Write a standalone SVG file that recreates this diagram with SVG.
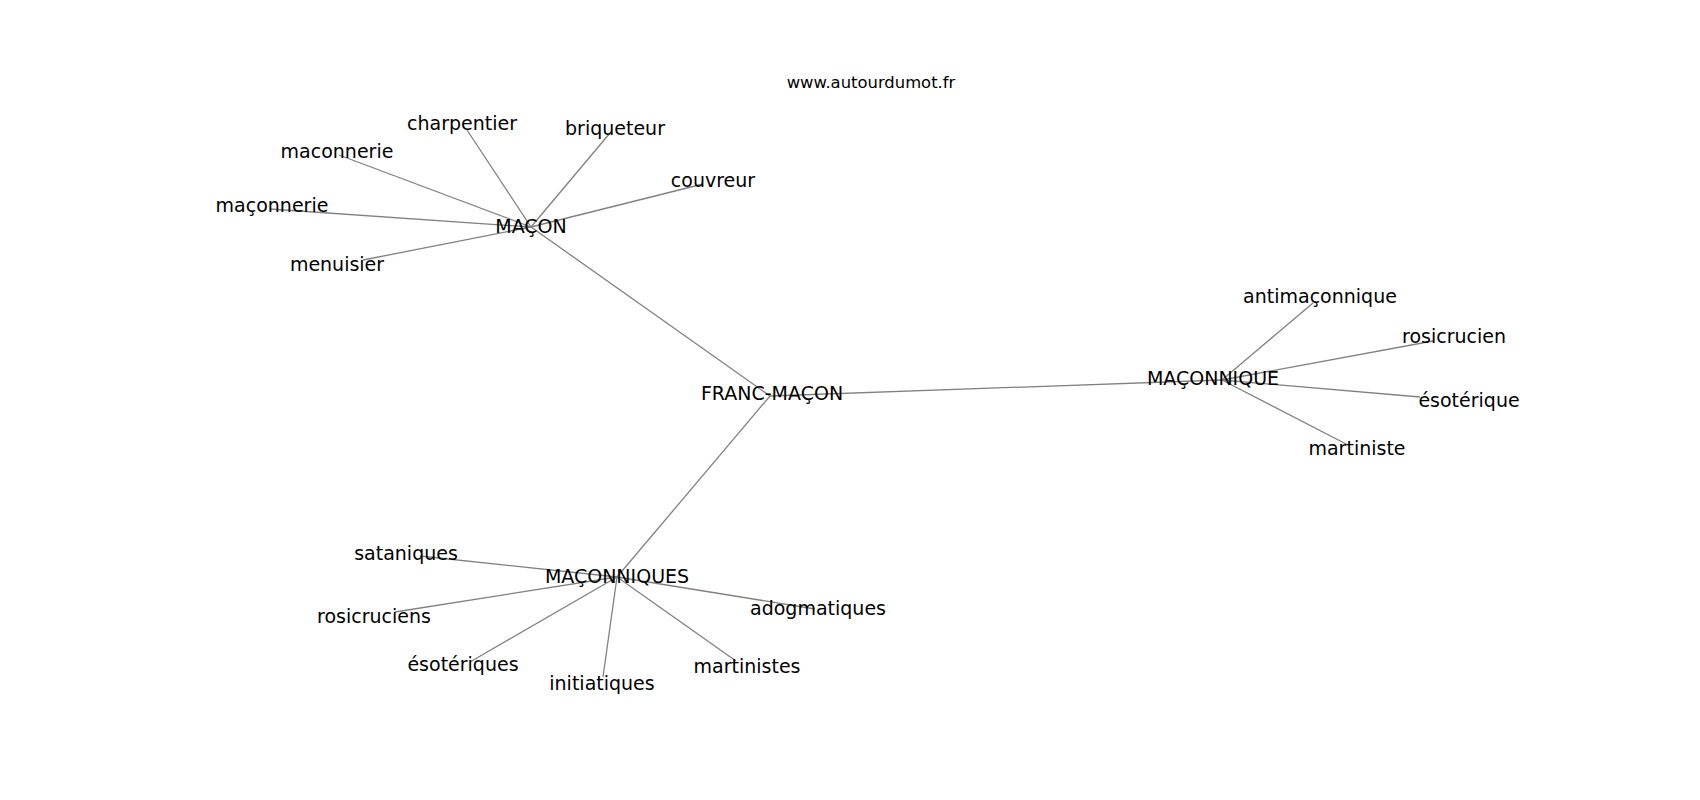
<svg xmlns="http://www.w3.org/2000/svg" width="1700" height="800" viewBox="0 0 1700 800">
<style>
.edge{stroke:#808080;stroke-width:1.3;fill:none}
.lbl{font-family:"DejaVu Sans","Liberation Sans",sans-serif;font-size:19px;fill:#000;text-anchor:middle}
.title{font-family:"DejaVu Sans","Liberation Sans",sans-serif;font-size:16.4px;fill:#000;text-anchor:middle}
</style>
<rect width="1700" height="800" fill="#fff"/>
<text class="title" x="871" y="88">www.autourdumot.fr</text>
<g id="connectors">
<line class="edge" x1="770" y1="396" x2="531" y2="227"/>
<line class="edge" x1="770" y1="396" x2="1222" y2="380"/>
<line class="edge" x1="770" y1="396" x2="617" y2="577"/>
<line class="edge" x1="531" y1="227" x2="339" y2="155"/>
<line class="edge" x1="531" y1="227" x2="467" y2="130"/>
<line class="edge" x1="531" y1="227" x2="610" y2="133"/>
<line class="edge" x1="531" y1="227" x2="703" y2="184"/>
<line class="edge" x1="531" y1="227" x2="270" y2="209"/>
<line class="edge" x1="531" y1="227" x2="363" y2="260"/>
<line class="edge" x1="1222" y1="380" x2="1313" y2="303"/>
<line class="edge" x1="1222" y1="380" x2="1433" y2="341"/>
<line class="edge" x1="1222" y1="380" x2="1420" y2="397"/>
<line class="edge" x1="1222" y1="380" x2="1348" y2="445"/>
<line class="edge" x1="617" y1="577" x2="420" y2="556"/>
<line class="edge" x1="617" y1="577" x2="395" y2="612"/>
<line class="edge" x1="617" y1="577" x2="470" y2="662"/>
<line class="edge" x1="617" y1="577" x2="603" y2="677"/>
<line class="edge" x1="617" y1="577" x2="736" y2="661"/>
<line class="edge" x1="617" y1="577" x2="815" y2="609"/>
</g>
<g id="n-francmacon"><text class="lbl" x="772" y="400">FRANC-MAÇON</text></g>
<g id="n-macon"><text class="lbl" x="531" y="233">MAÇON</text></g>
<g id="n-maconnerie1"><text class="lbl" x="337" y="158">maconnerie</text></g>
<g id="n-charpentier"><text class="lbl" x="462" y="130">charpentier</text></g>
<g id="n-briqueteur"><text class="lbl" x="615" y="135">briqueteur</text></g>
<g id="n-couvreur"><text class="lbl" x="713" y="187">couvreur</text></g>
<g id="n-maconnerie2"><text class="lbl" x="272" y="212">maçonnerie</text></g>
<g id="n-menuisier"><text class="lbl" x="337" y="271">menuisier</text></g>
<g id="n-maconnique"><text class="lbl" x="1213" y="385">MAÇONNIQUE</text></g>
<g id="n-antimaconnique"><text class="lbl" x="1320" y="303">antimaçonnique</text></g>
<g id="n-rosicrucien"><text class="lbl" x="1454" y="343">rosicrucien</text></g>
<g id="n-esoterique"><text class="lbl" x="1469" y="407">ésotérique</text></g>
<g id="n-martiniste"><text class="lbl" x="1357" y="455">martiniste</text></g>
<g id="n-maconniques"><text class="lbl" x="617" y="583">MAÇONNIQUES</text></g>
<g id="n-sataniques"><text class="lbl" x="406" y="560">sataniques</text></g>
<g id="n-rosicruciens"><text class="lbl" x="374" y="623">rosicruciens</text></g>
<g id="n-esoteriques"><text class="lbl" x="463" y="671">ésotériques</text></g>
<g id="n-initiatiques"><text class="lbl" x="602" y="690">initiatiques</text></g>
<g id="n-martinistes"><text class="lbl" x="747" y="673">martinistes</text></g>
<g id="n-adogmatiques"><text class="lbl" x="818" y="615">adogmatiques</text></g>
</svg>
